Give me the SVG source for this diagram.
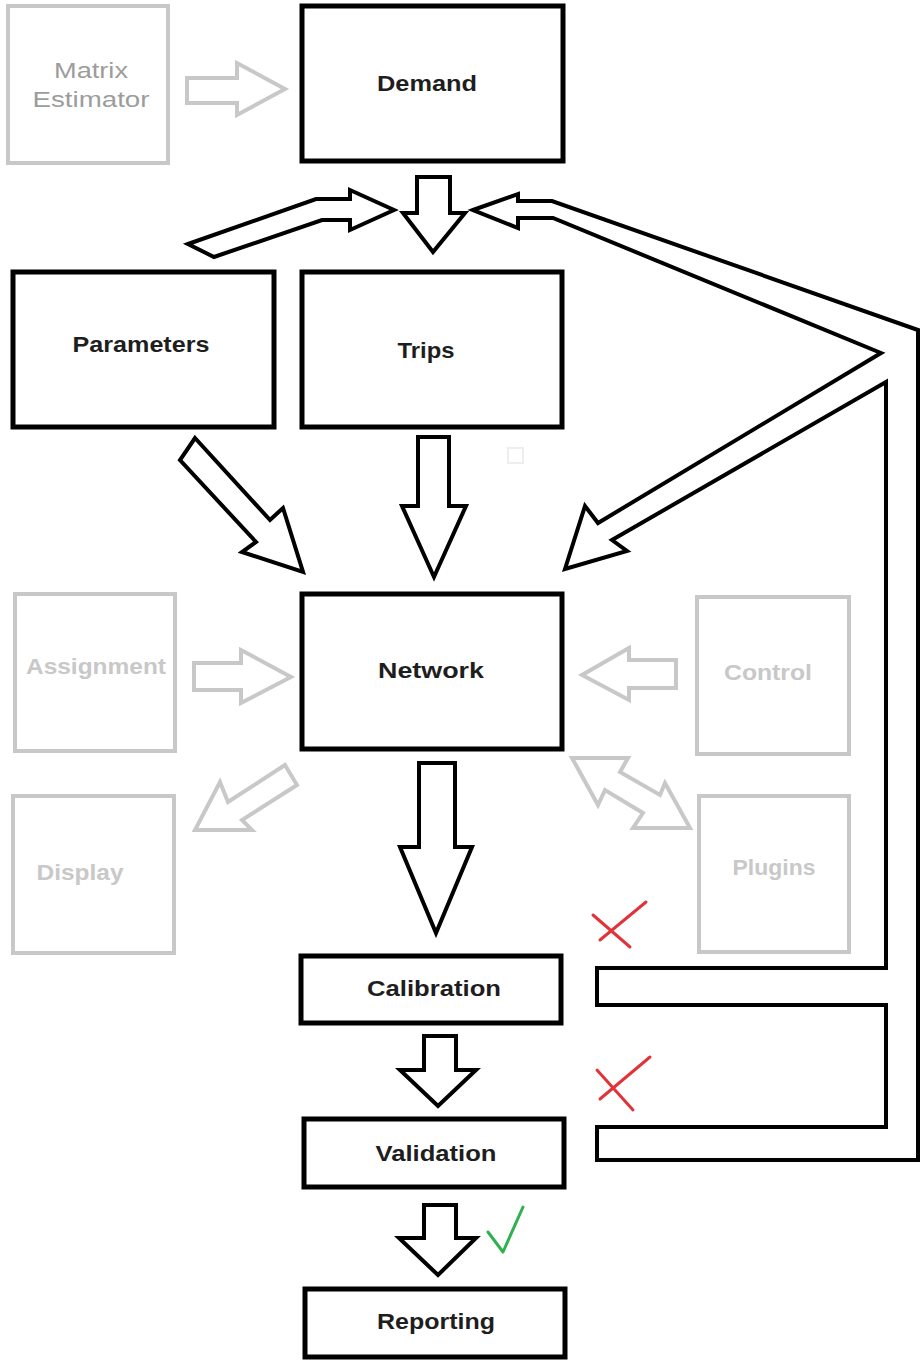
<svg xmlns="http://www.w3.org/2000/svg" width="922" height="1362" viewBox="0 0 922 1362">
  <style>
    .box { fill: #ffffff; stroke: #000000; stroke-width: 5; }
    .gbox { fill: #ffffff; stroke: #c8c8c8; stroke-width: 4; }
    .arrow { fill: #ffffff; stroke: #000000; stroke-width: 4; stroke-linejoin: miter; }
    .garrow { fill: #ffffff; stroke: #c8c8c8; stroke-width: 4; stroke-linejoin: miter; }
    .lbl { font-family: "Liberation Sans", Arial, sans-serif; font-weight: bold; font-size: 22px; fill: #1e1e1e; text-anchor: middle; }
    .glbl { font-family: "Liberation Sans", Arial, sans-serif; font-weight: bold; font-size: 22px; fill: #c8c8c8; text-anchor: middle; }
    .mlbl { font-family: "Liberation Sans", Arial, sans-serif; font-size: 22px; fill: #9c9c9c; text-anchor: middle; }
    .cross { fill: none; stroke: #e0343a; stroke-width: 3; stroke-linecap: round; }
    .tick { fill: none; stroke: #2fb14f; stroke-width: 3; stroke-linecap: round; stroke-linejoin: round; }
  </style>
  <rect width="922" height="1362" fill="#ffffff"/>

  <g id="connectors">
    <!-- Matrix Estimator -> Demand (gray) -->
    <polygon class="garrow" points="187,78 237,78 237,63 285,89 237,115 237,103 187,103"/>
    <!-- Demand -> Trips -->
    <polygon class="arrow" points="417,177 450,177 450,213 465,213 433,252 403,213 417,213"/>
    <!-- Parameters bent arrow into junction -->
    <polygon class="arrow" points="188,244 316,199 350,199 350,190 394,210 350,230 350,220 322,220 214,257"/>
    <!-- Feedback loop from Calibration/Validation back to junction and Network -->
    <polygon class="arrow" points="473,210 518,194 518,201 552,201 918,330 918,1160 597,1160 597,1127 886,1127 886,1005 597,1005 597,968 886,968 886,382 612,540 627,551 565,569 585,506 598,523 881,353 553,218 518,218 518,228"/>
    <!-- Parameters -> Network -->
    <polygon class="arrow" points="195,438 270,520 283,508 303,572 242,552 256,542 180,460"/>
    <!-- Trips -> Network -->
    <polygon class="arrow" points="418,437 449,437 449,506 466,506 434,577 402,506 418,506"/>
    <!-- Assignment -> Network (gray) -->
    <polygon class="garrow" points="194,663 241,663 241,650 291,677 241,703 241,690 194,690"/>
    <!-- Control -> Network (gray) -->
    <polygon class="garrow" points="676,660 629,660 629,648 582,675 629,700 629,688 676,688"/>
    <!-- Network -> Display (gray) -->
    <polygon class="garrow" points="285,765 228,802 220,782 195,830 252,830 242,820 297,785"/>
    <!-- Network <-> Plugins (gray) -->
    <polygon class="garrow" points="572,758 628,758 620,772 660,795 665,783 690,828 633,828 643,813 605,790 598,805"/>
    <!-- Network -> Calibration -->
    <polygon class="arrow" points="419,763 455,763 455,847 472,847 436,933 400,847 419,847"/>
    <!-- Calibration -> Validation -->
    <polygon class="arrow" points="424,1036 456,1036 456,1070 476,1070 438,1106 400,1070 424,1070"/>
    <!-- Validation -> Reporting -->
    <polygon class="arrow" points="424,1205 456,1205 456,1238 476,1238 438,1275 399,1238 424,1238"/>
  </g>

  <g id="node-matrix-estimator">
    <rect class="gbox" x="8" y="6" width="160" height="157"/>
    <text class="mlbl" x="91" y="78" textLength="74" lengthAdjust="spacingAndGlyphs">Matrix</text>
    <text class="mlbl" x="91" y="107" textLength="117" lengthAdjust="spacingAndGlyphs">Estimator</text>
  </g>
  <g id="node-demand">
    <rect class="box" x="302" y="6" width="261" height="155"/>
    <text class="lbl" x="427" y="91" textLength="100" lengthAdjust="spacingAndGlyphs">Demand</text>
  </g>
  <g id="node-parameters">
    <rect class="box" x="13" y="272" width="261" height="155"/>
    <text class="lbl" x="141" y="352" textLength="137" lengthAdjust="spacingAndGlyphs">Parameters</text>
  </g>
  <g id="node-trips">
    <rect class="box" x="302" y="272" width="260" height="155"/>
    <text class="lbl" x="426" y="358" textLength="57" lengthAdjust="spacingAndGlyphs">Trips</text>
  </g>
  <rect x="508" y="448" width="15" height="15" fill="none" stroke="#eeeeee" stroke-width="2"/>
  <g id="node-assignment">
    <rect class="gbox" x="15" y="594" width="160" height="157"/>
    <text class="glbl" x="96" y="674" textLength="140" lengthAdjust="spacingAndGlyphs">Assignment</text>
  </g>
  <g id="node-network">
    <rect class="box" x="302" y="594" width="260" height="155"/>
    <text class="lbl" x="431" y="678" textLength="106" lengthAdjust="spacingAndGlyphs">Network</text>
  </g>
  <g id="node-control">
    <rect class="gbox" x="697" y="597" width="152" height="157"/>
    <text class="glbl" x="768" y="680" textLength="88" lengthAdjust="spacingAndGlyphs">Control</text>
  </g>
  <g id="node-display">
    <rect class="gbox" x="13" y="796" width="161" height="157"/>
    <text class="glbl" x="80" y="880" textLength="87" lengthAdjust="spacingAndGlyphs">Display</text>
  </g>
  <g id="node-plugins">
    <rect class="gbox" x="699" y="796" width="150" height="156"/>
    <text class="glbl" x="774" y="875" textLength="83" lengthAdjust="spacingAndGlyphs">Plugins</text>
  </g>
  <g id="node-calibration">
    <rect class="box" x="301" y="956" width="260" height="67"/>
    <text class="lbl" x="434" y="996" textLength="134" lengthAdjust="spacingAndGlyphs">Calibration</text>
  </g>
  <g id="node-validation">
    <rect class="box" x="304" y="1119" width="260" height="68"/>
    <text class="lbl" x="436" y="1161" textLength="121" lengthAdjust="spacingAndGlyphs">Validation</text>
  </g>
  <g id="node-reporting">
    <rect class="box" x="305" y="1289" width="260" height="68"/>
    <text class="lbl" x="436" y="1329" textLength="118" lengthAdjust="spacingAndGlyphs">Reporting</text>
  </g>

  <g id="marks">
    <path class="cross" d="M593,915 L630,947 M600,940 L646,902"/>
    <path class="cross" d="M597,1070 L633,1110 M600,1099 L650,1057"/>
    <path class="tick" d="M488,1232 L503,1252 L523,1207"/>
  </g>
</svg>
